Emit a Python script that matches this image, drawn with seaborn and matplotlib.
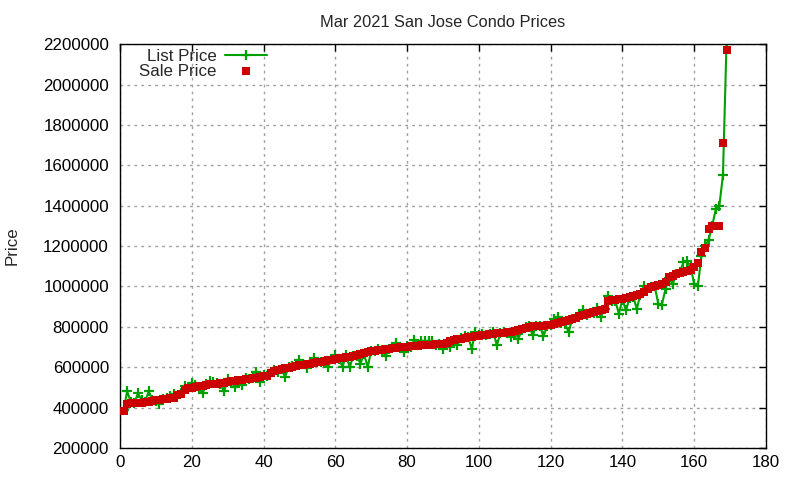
import numpy as np
import pandas as pd
import matplotlib
matplotlib.use('Agg')
import matplotlib.pyplot as plt
import seaborn as sns

sale_price = [
    385000, 420000, 421000, 422000, 424000, 425000, 426000, 428000, 435000, 438000,
    440000, 443000, 445000, 447000, 450000, 460000, 465000, 488000, 495000, 499000,
    503000, 506000, 509000, 512000, 515000, 517000, 519000, 521000, 524000, 527000,
    530000, 532000, 535000, 538000, 541000, 544000, 547000, 549000, 552000, 555000,
    558000, 570000, 580000, 585000, 590000, 595000, 598000, 602000, 606000, 609000,
    612000, 614000, 617000, 620000, 624000, 628000, 632000, 635000, 638000, 641000,
    644000, 647000, 650000, 652000, 655000, 660000, 665000, 670000, 675000, 678000,
    680000, 683000, 686000, 689000, 692000, 695000, 697000, 699000, 700000, 701000,
    703000, 705000, 707000, 709000, 710000, 711000, 712000, 713000, 715000, 717000,
    722000, 728000, 735000, 740000, 742000, 745000, 748000, 750000, 753000, 756000,
    758000, 761000, 764000, 766000, 767000, 768000, 770000, 773000, 776000, 779000,
    783000, 788000, 795000, 800000, 802000, 804000, 805000, 806000, 807000, 808000,
    812000, 818000, 823000, 828000, 832000, 838000, 845000, 852000, 857000, 862000,
    867000, 872000, 878000, 884000, 890000, 926000, 932000, 935000, 937000, 939000,
    942000, 946000, 952000, 958000, 965000, 975000, 985000, 998000, 1002000, 1005000,
    1010000, 1020000, 1045000, 1050000, 1062000, 1068000, 1072000, 1076000, 1080000, 1095000,
    1116000, 1170000, 1190000, 1285000, 1300000, 1300000, 1300000, 1710000, 2170000,
]

list_price = [
    390000, 480000, 430000, 425000, 470000, 440000, 430000, 480000, 440000, 435000,
    416000, 445000, 450000, 455000, 465000, 455000, 470000, 505000, 490000, 520000,
    510000, 500000, 470000, 515000, 530000, 525000, 522000, 515000, 480000, 540000,
    525000, 503000, 530000, 511000, 545000, 540000, 545000, 577000, 528000, 560000,
    555000, 575000, 585000, 575000, 590000, 553000, 600000, 605000, 610000, 638000,
    615000, 594000, 620000, 645000, 625000, 625000, 630000, 602000, 640000, 659000,
    640000, 602000, 660000, 600000, 655000, 655000, 618000, 665000, 600000, 680000,
    680000, 690000, 685000, 654000, 690000, 700000, 720000, 700000, 676000, 705000,
    700000, 737000, 715000, 730000, 730000, 728000, 730000, 712000, 715000, 692000,
    720000, 700000, 730000, 708000, 745000, 755000, 750000, 692000, 774000, 760000,
    765000, 762000, 765000, 775000, 708000, 770000, 775000, 770000, 750000, 780000,
    741000, 785000, 800000, 805000, 758000, 805000, 805000, 753000, 805000, 810000,
    840000, 848000, 820000, 815000, 774000, 840000, 850000, 855000, 881000, 860000,
    870000, 870000, 893000, 848000, 890000, 955000, 930000, 930000, 865000, 935000,
    881000, 945000, 950000, 889000, 960000, 1004000, 990000, 995000, 1000000, 914000,
    910000, 988000, 1040000, 1012000, 1060000, 1070000, 1120000, 1125000, 1100000, 1010000,
    1000000, 1150000, 1200000, 1230000, 1300000, 1382000, 1400000, 1550000, 2205000,
]

idx = np.arange(1, len(sale_price) + 1)
df = pd.DataFrame({'idx': idx, 'List Price': list_price, 'Sale Price': sale_price})

GREEN = '#00a000'
RED = '#cc0000'
FS = 12.2

sns.set_style('white')
plt.rcParams['font.family'] = ['Liberation Sans', 'DejaVu Sans']
plt.rcParams['font.size'] = FS

fig = plt.figure(figsize=(8, 4.8), dpi=100)
ax = fig.add_axes([0.15, 0.0667, 0.8075, 0.8413])

sns.lineplot(x='idx', y='List Price', data=df, ax=ax, color=GREEN, linewidth=1.5,
             marker='+', markersize=7, markeredgewidth=1.6, markeredgecolor=GREEN,
             markerfacecolor=GREEN, label='List Price', zorder=2)
sns.scatterplot(x='idx', y='Sale Price', data=df, ax=ax, color=RED, marker='s',
                s=34, linewidth=0, label='Sale Price', zorder=3)

ax.set_xlim(0, 180)
ax.set_ylim(200000, 2200000)
ax.set_xticks(range(0, 181, 20))
ax.set_yticks(range(200000, 2200001, 200000))
ax.ticklabel_format(style='plain', axis='y', useOffset=False)
ax.grid(True, color='#a0a0a0', linestyle=(0, (2, 3)), linewidth=1)
ax.tick_params(direction='in', top=True, right=True, length=5, width=1,
               labelsize=FS, colors='black')
ax.tick_params(axis='y', pad=8)
ax.tick_params(axis='x', pad=5)
for s in ax.spines.values():
    s.set_color('black')
    s.set_linewidth(1)
ax.set_xlabel('')
ax.set_ylabel('Price', fontsize=FS)
ax.yaxis.set_label_coords(-0.156, 0.5)
ax.set_title('Mar 2021 San Jose Condo Prices', fontsize=FS - 0.4, pad=12)

ax.legend(loc='upper right', bbox_to_anchor=(0.228, 0.987), frameon=False, markerfirst=False,
          fontsize=FS, handlelength=2.5, handletextpad=0.5, labelspacing=-0.05,
          borderpad=0, borderaxespad=0)

fig.savefig('out.png', dpi=100)
